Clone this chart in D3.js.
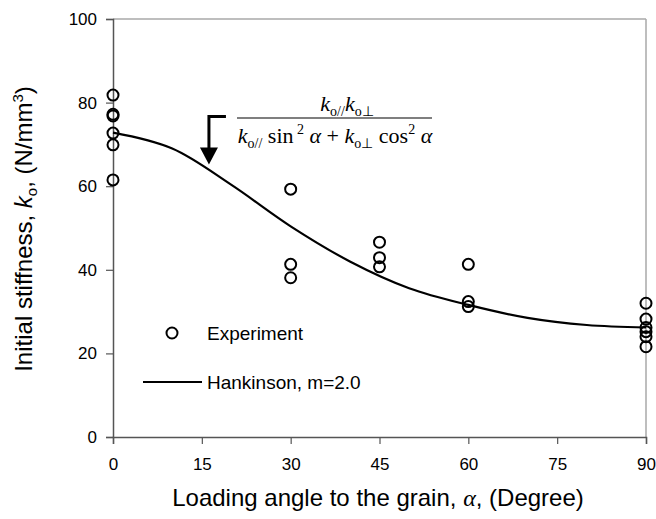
<!DOCTYPE html>
<html><head><meta charset="utf-8">
<script src="https://cdn.jsdelivr.net/npm/d3@7"></script>
<style>body{margin:0;background:#fff}svg{display:block}</style>
</head><body>
<svg id="c" width="656" height="519"></svg>
<script>
// ---- data ----
const xTicks = [0, 15, 30, 45, 60, 75, 90];
const yTicks = [0, 20, 40, 60, 80, 100];
const expAngles = [0, 30, 45, 60, 90];
const exp0 = [81.8, 77.2, 76.8, 72.7, 69.9, 61.5];
const exp30 = [59.3, 41.3, 38.1];
const exp45 = [46.6, 42.9, 40.7];
const exp60 = [41.3, 32.4, 31.2];
const exp90 = [32.0, 28.2, 26.2, 25.2, 24.0, 21.6];
const hankAngles = [0, 10, 20, 30, 40, 50, 60, 70, 80, 90];
const hankValues = [72.8, 69.0, 60.3, 50.4, 42.0, 35.6, 31.6, 28.5, 26.8, 26.2];
const arrowAt = {angle: 16.2, value: 65.2};

const svg = d3.select('#c');
const L = 113, R = 646, T = 19, B = 437;
const x = d3.scaleLinear().domain([0, 90]).range([L, R]);
const y = d3.scaleLinear().domain([0, 100]).range([B, T]);
const sans = 'Liberation Sans, Arial, sans-serif';
const serif = 'Liberation Serif, Times New Roman, serif';

// frame top/right light
svg.append('line').attr('x1', L).attr('x2', R).attr('y1', T).attr('y2', T).attr('stroke', '#a8a8a8').attr('stroke-width', 1.5);
svg.append('line').attr('x1', R).attr('x2', R).attr('y1', T).attr('y2', B).attr('stroke', '#a8a8a8').attr('stroke-width', 1.5);

// axes
const yAxis = svg.append('g').attr('transform', `translate(${L},0)`)
  .call(d3.axisLeft(y).tickValues(yTicks).tickSize(7).tickPadding(9).tickFormat(d3.format('d')));
const xAxis = svg.append('g').attr('transform', `translate(0,${B})`)
  .call(d3.axisBottom(x).tickValues(xTicks).tickSize(7).tickPadding(14).tickFormat(d3.format('d')));
[xAxis, yAxis].forEach(g => {
  g.selectAll('path').attr('stroke', '#555').attr('stroke-width', 1.5);
  g.selectAll('line').attr('stroke', '#555').attr('stroke-width', 1.2);
  g.selectAll('text').attr('fill', '#000').style('font-family', sans).style('font-size', '17px');
});

// Hankinson curve
const line = d3.line().x((d, i) => x(hankAngles[i])).y(d => y(d)).curve(d3.curveCatmullRom.alpha(0.5));
svg.append('path').datum(hankValues).attr('d', line).attr('fill', 'none').attr('stroke', '#000').attr('stroke-width', 2.2);

// experiment points
const expSets = [exp0, exp30, exp45, exp60, exp90];
const pts = [];
expSets.forEach((arr, i) => arr.forEach(v => pts.push({a: expAngles[i], v})));
svg.append('g').selectAll('circle').data(pts).join('circle')
  .attr('cx', d => x(d.a)).attr('cy', d => y(d.v)).attr('r', 5.5)
  .attr('fill', 'none').attr('stroke', '#000').attr('stroke-width', 2);

// legend
svg.append('circle').attr('cx', 172).attr('cy', 333).attr('r', 5.5).attr('fill', 'none').attr('stroke', '#000').attr('stroke-width', 2);
svg.append('text').attr('x', 207).attr('y', 340).text('Experiment').style('font-family', sans).style('font-size', '19px');
svg.append('line').attr('x1', 143).attr('x2', 202).attr('y1', 382).attr('y2', 382).attr('stroke', '#000').attr('stroke-width', 2.2);
svg.append('text').attr('x', 207).attr('y', 389).text('Hankinson, m=2.0').style('font-family', sans).style('font-size', '19px');

// arrow annotation
const ax = x(arrowAt.angle), ay = y(arrowAt.value);
svg.append('path').attr('d', `M${ax + 17},${ay - 48} H${ax} V${ay - 14}`).attr('fill', 'none').attr('stroke', '#000').attr('stroke-width', 3);
svg.append('path').attr('d', `M${ax - 9},${ay - 17} L${ax + 9},${ay - 17} L${ax},${ay} Z`).attr('fill', '#000');

// formula
const fNum = svg.append('text').attr('x', 347).attr('y', 111).attr('text-anchor', 'middle').style('font-family', serif).style('font-size', '22px');
fNum.append('tspan').attr('font-style', 'italic').text('k');
fNum.append('tspan').attr('font-size', '14px').attr('dy', 5).text('o//');
fNum.append('tspan').attr('font-style', 'italic').attr('dy', -5).text('k');
fNum.append('tspan').attr('font-size', '14px').attr('dy', 5).text('o⊥');
svg.append('line').attr('x1', 237).attr('x2', 432).attr('y1', 118).attr('y2', 118).attr('stroke', '#000').attr('stroke-width', 1.2);
const fDen = svg.append('text').attr('x', 335).attr('y', 143).attr('text-anchor', 'middle').style('font-family', serif).style('font-size', '22px');
fDen.append('tspan').attr('font-style', 'italic').text('k');
fDen.append('tspan').attr('font-size', '14px').attr('dy', 5).text('o//');
fDen.append('tspan').attr('dy', -5).text(' sin');
fDen.append('tspan').attr('font-size', '14px').attr('dy', -9).text(' 2');
fDen.append('tspan').attr('font-style', 'italic').attr('dy', 9).text(' α');
fDen.append('tspan').text(' + ');
fDen.append('tspan').attr('font-style', 'italic').text('k');
fDen.append('tspan').attr('font-size', '14px').attr('dy', 5).text('o⊥');
fDen.append('tspan').attr('dy', -5).text(' cos');
fDen.append('tspan').attr('font-size', '14px').attr('dy', -9).text('2');
fDen.append('tspan').attr('font-style', 'italic').attr('dy', 9).text(' α');

// x axis title
const xt = svg.append('text').attr('x', 378).attr('y', 506).attr('text-anchor', 'middle').style('font-family', sans).style('font-size', '24px');
xt.append('tspan').text('Loading angle to the grain, ');
xt.append('tspan').style('font-family', serif).attr('font-style', 'italic').text('α');
xt.append('tspan').text(', (Degree)');

// y axis title
const yt = svg.append('text').attr('transform', `translate(32,229) rotate(-90)`).attr('text-anchor', 'middle').style('font-family', sans).style('font-size', '24px');
yt.append('tspan').text('Initial stiffness, ');
yt.append('tspan').attr('font-style', 'italic').text('k');
yt.append('tspan').attr('font-size', '15px').attr('dy', 5).text('o');
yt.append('tspan').attr('dy', -5).text(', (N/mm');
yt.append('tspan').attr('font-size', '15px').attr('dy', -9).text('3');
yt.append('tspan').attr('dy', 9).text(')');
</script>
</body></html>
